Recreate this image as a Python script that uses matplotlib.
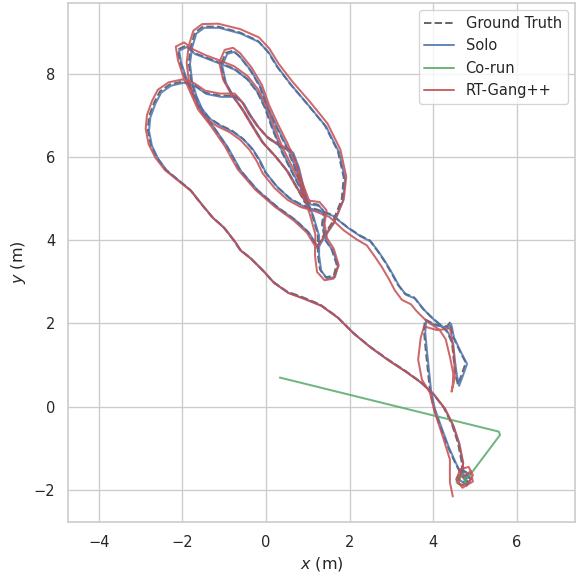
import matplotlib
matplotlib.use("Agg")
import matplotlib.pyplot as plt
import seaborn as sns

sns.set_theme(style="whitegrid")
plt.rcParams['font.family'] = ['DejaVu Sans']

# ground truth trajectory (x, y in metres)
gt_x = [4.72, 4.85, 4.68, 4.58, 4.78, 4.88, 4.70,
        4.68, 4.59, 4.45, 4.25, 3.99, 3.68, 3.32, 2.91, 2.48, 2.08, 1.69, 1.29, 0.88, 0.50, 0.16, -0.10, -0.39,
        -0.63, -0.79, -1.03, -1.30, -1.54, -1.82, -2.11, -2.40, -2.61, -2.76, -2.83, -2.80, -2.68, -2.54, -2.30,
        -1.99, -1.70, -1.46, -1.11, -0.75,
        -0.56, -0.39, -0.20, 0.04, 0.33, 0.62, 0.76, 0.86, 0.95, 1.10,
        1.24, 1.24, 1.29, 1.43, 1.62, 1.69, 1.57, 1.41, 1.34, 1.38, 1.24, 0.93,
        0.76, 0.52, 0.23, -0.08, -0.32, -0.56, -0.79, -0.99, -1.08, -0.96, -0.79, -0.65, -0.39, -0.15, 0.02, 0.23,
        0.47, 0.67, 0.83, 1.00,
        0.81, 0.59, 0.35, 0.14, -0.03, -0.22, -0.46, -0.77, -1.11, -1.42, -1.73, -1.92, -2.11, -2.06, -1.94, -1.78,
        -1.58, -1.27, -0.94, -0.63, -0.22, 0.26, 0.69, 1.00, 1.22,
        1.36, 1.60, 1.81, 1.86, 1.72, 1.41, 1.00, 0.57, 0.26, 0.04, -0.20, -0.63, -1.15, -1.51, -1.70, -1.80, -1.85,
        -1.80, -1.70, -1.56, -1.37, -1.11, -0.82, -0.56, -0.34, -0.17, -0.03, 0.26, 0.57, 0.88, 1.22, 1.57, 1.93,
        2.24, 2.48, 2.68, 2.84, 3.01, 3.15, 3.32, 3.54, 3.75, 3.97, 4.16, 4.33, 4.45, 4.49, 4.54, 4.59,
        4.68, 4.78, 4.64, 4.47, 4.40, 4.33, 4.04, 3.80,
        3.78, 3.82, 3.87, 3.92, 4.01, 4.18, 4.35, 4.52, 4.66, 4.78]
gt_y = [-1.75, -1.60, -1.52, -1.72, -1.85, -1.70, -1.65,
        -1.32, -0.86, -0.43, -0.02, 0.32, 0.61, 0.87, 1.14, 1.45, 1.78, 2.17, 2.46, 2.63, 2.77, 3.01, 3.30, 3.59,
        3.78, 4.02, 4.33, 4.57, 4.86, 5.22, 5.46, 5.70, 5.99, 6.30, 6.66, 6.98, 7.31, 7.58, 7.75,
        7.82, 7.72, 7.55, 7.48, 7.48,
        7.31, 7.02, 6.74, 6.47, 6.28, 6.14, 5.77, 5.34, 4.98, 4.62,
        4.14, 3.66, 3.30, 3.11, 3.15, 3.42, 3.78, 4.02, 4.38, 4.69, 4.86, 4.91,
        5.22, 5.65, 6.01, 6.35, 6.74, 7.14, 7.46, 7.82, 8.23, 8.51, 8.56, 8.44, 8.11, 7.70, 7.22, 6.76,
        6.28, 5.80, 5.32, 4.86,
        5.27, 5.70, 6.18, 6.71, 7.19, 7.58, 7.89, 8.13, 8.27, 8.39, 8.51, 8.68, 8.59, 8.30, 7.94, 7.58,
        7.14, 6.74, 6.26, 5.70, 5.22, 4.81, 4.50, 4.21, 3.85,
        4.09, 4.45, 4.98, 5.51, 6.14, 6.76, 7.26, 7.77, 8.18, 8.54, 8.80, 9.00, 9.14, 9.14, 9.00, 8.66, 8.27,
        7.87, 7.51, 7.19, 6.95, 6.78, 6.64, 6.45, 6.21, 5.94, 5.65, 5.29, 5.01, 4.84, 4.74, 4.62, 4.33,
        4.12, 4.00, 3.73, 3.49, 3.20, 2.94, 2.72, 2.63, 2.36, 2.14, 1.98, 1.81, 1.54, 1.14, 0.77, 0.53,
        0.77, 1.06, 1.33, 1.69, 2.02, 1.93, 1.98, 2.10,
        1.81, 1.38, 0.89, 0.41, -0.02, -0.50, -0.96, -1.34, -1.61, -1.75]

# solo estimate
solo_x = [4.75, 4.88, 4.71, 4.61, 4.81, 4.91, 4.73,
          4.71, 4.62, 4.48, 4.28, 4.02, 3.71, 3.35, 2.94, 2.51, 2.11, 1.72, 1.32, 0.91, 0.53, 0.19, -0.07, -0.36,
          -0.60, -0.76, -1.00, -1.27, -1.51, -1.79, -2.08, -2.37, -2.58, -2.73, -2.80, -2.77, -2.65, -2.51, -2.27,
          -1.96, -1.67, -1.43, -1.08, -0.72,
          -0.53, -0.36, -0.17, 0.07, 0.36, 0.65, 0.79, 0.89, 0.98, 1.13,
          1.27, 1.27, 1.32, 1.46, 1.65, 1.72, 1.60, 1.44, 1.37, 1.41, 1.27, 0.96,
          0.79, 0.55, 0.26, -0.05, -0.29, -0.53, -0.76, -0.96, -1.05, -0.93, -0.76, -0.62, -0.36, -0.12, 0.05, 0.26,
          0.50, 0.70, 0.86, 1.03,
          0.84, 0.62, 0.38, 0.17, 0.00, -0.19, -0.43, -0.74, -1.08, -1.39, -1.70, -1.89, -2.08, -2.03, -1.91, -1.75,
          -1.55, -1.24, -0.91, -0.60, -0.19, 0.29, 0.72, 1.03, 1.25,
          1.39, 1.63, 1.84, 1.89, 1.75, 1.44, 1.03, 0.60, 0.29, 0.07, -0.17, -0.60, -1.12, -1.48, -1.67, -1.77, -1.82,
          -1.77, -1.67, -1.53, -1.34, -1.08, -0.79, -0.53, -0.31, -0.14, 0.00, 0.29, 0.60, 0.91, 1.25, 1.60, 1.96,
          2.27, 2.51, 2.71, 2.87, 3.04, 3.18, 3.35, 3.57, 3.78, 4.00, 4.19, 4.36, 4.48, 4.52, 4.57, 4.62,
          4.71, 4.81, 4.67, 4.50, 4.43, 4.36, 4.07, 3.83,
          3.81, 3.85, 3.90, 3.95, 4.04, 4.21, 4.38, 4.55, 4.69, 4.81]
solo_y = [-1.78, -1.63, -1.55, -1.75, -1.88, -1.73, -1.68,
          -1.35, -0.89, -0.46, -0.05, 0.29, 0.58, 0.84, 1.11, 1.42, 1.75, 2.14, 2.43, 2.60, 2.74, 2.98, 3.27, 3.56,
          3.75, 3.99, 4.30, 4.54, 4.83, 5.19, 5.43, 5.67, 5.96, 6.27, 6.63, 6.95, 7.28, 7.55, 7.72,
          7.79, 7.69, 7.52, 7.45, 7.45,
          7.28, 6.99, 6.71, 6.44, 6.25, 6.11, 5.74, 5.31, 4.95, 4.59,
          4.11, 3.63, 3.27, 3.08, 3.12, 3.39, 3.75, 3.99, 4.35, 4.66, 4.83, 4.88,
          5.19, 5.62, 5.98, 6.32, 6.71, 7.11, 7.43, 7.79, 8.20, 8.48, 8.53, 8.41, 8.08, 7.67, 7.19, 6.73,
          6.25, 5.77, 5.29, 4.83,
          5.24, 5.67, 6.15, 6.68, 7.16, 7.55, 7.86, 8.10, 8.24, 8.36, 8.48, 8.65, 8.56, 8.27, 7.91, 7.55,
          7.11, 6.71, 6.23, 5.67, 5.19, 4.78, 4.47, 4.18, 3.82,
          4.06, 4.42, 4.95, 5.48, 6.11, 6.73, 7.23, 7.74, 8.15, 8.51, 8.77, 8.97, 9.11, 9.11, 8.97, 8.63, 8.24,
          7.84, 7.48, 7.16, 6.92, 6.75, 6.61, 6.42, 6.18, 5.91, 5.62, 5.26, 4.98, 4.81, 4.71, 4.59, 4.30,
          4.09, 3.97, 3.70, 3.46, 3.17, 2.91, 2.69, 2.60, 2.33, 2.11, 1.95, 1.78, 1.51, 1.11, 0.74, 0.50,
          0.74, 1.03, 1.30, 1.66, 1.99, 1.90, 1.95, 2.07,
          1.78, 1.35, 0.86, 0.38, -0.05, -0.53, -0.99, -1.37, -1.64, -1.78]

# co-run estimate
corun_x = [0.33, 5.57, 5.60, 4.95, 4.78, 4.62, 4.75, 4.78, 4.68, 4.56, 4.58, 4.70]
corun_y = [0.70, -0.60, -0.68, -1.55, -1.72, -1.65, -1.70, -1.82, -1.90, -1.82, -1.70, -1.62]

# RT-Gang++ estimate
rt_x = [4.70, 4.90, 4.95, 4.70, 4.55, 4.65, 4.85, 4.95, 4.80, 4.60,
        4.72, 4.63, 4.49, 4.29, 4.03, 3.72, 3.36, 2.95, 2.52, 2.12, 1.73, 1.33, 0.92, 0.54, 0.20, -0.06, -0.35,
        -0.59, -0.75, -0.99, -1.26, -1.50, -1.80, -2.11, -2.42, -2.65, -2.81, -2.88, -2.85, -2.73, -2.59, -2.33,
        -2.00, -1.70, -1.46, -1.11, -0.75,
        -0.58, -0.42, -0.23, 0.01, 0.30, 0.59, 0.74, 0.83, 0.92, 1.05,
        1.18, 1.17, 1.22, 1.40, 1.62, 1.74, 1.62, 1.46, 1.40, 1.45, 1.28, 0.93,
        0.73, 0.48, 0.19, -0.12, -0.36, -0.60, -0.83, -1.03, -1.12, -0.99, -0.79, -0.62, -0.35, -0.10, 0.07, 0.28,
        0.52, 0.72, 0.88, 1.05,
        0.86, 0.64, 0.40, 0.19, 0.02, -0.19, -0.44, -0.77, -1.12, -1.44, -1.76, -1.96, -2.16, -2.11, -1.99, -1.83,
        -1.63, -1.32, -0.99, -0.68, -0.26, 0.22, 0.66, 0.98, 1.20,
        1.36, 1.62, 1.86, 1.92, 1.78, 1.47, 1.06, 0.62, 0.30, 0.08, -0.17, -0.62, -1.15, -1.53, -1.74, -1.85, -1.90,
        -1.85, -1.75, -1.61, -1.42, -1.16, -0.87, -0.61, -0.39, -0.22, -0.08, 0.21, 0.52, 0.83, 1.17, 1.52, 1.86,
        2.17, 2.41, 2.61, 2.77, 2.94, 3.08, 3.25, 3.47, 3.60,
        3.85, 4.15, 4.30, 4.40, 4.48, 4.47, 4.44, 4.52, 4.50, 4.44, 4.40, 4.10, 3.78,
        3.70, 3.64, 3.73, 3.92, 4.04, 4.23, 4.40, 4.40, 4.47]
rt_y = [-1.70, -1.55, -1.80, -1.95, -1.75, -1.50, -1.45, -1.65, -1.90, -1.85,
        -1.36, -0.90, -0.47, -0.06, 0.28, 0.57, 0.83, 1.10, 1.41, 1.74, 2.13, 2.42, 2.59, 2.73, 2.97, 3.26, 3.55,
        3.74, 3.98, 4.29, 4.53, 4.82, 5.19, 5.44, 5.69, 5.99, 6.31, 6.68, 7.01, 7.35, 7.62, 7.80,
        7.87, 7.77, 7.60, 7.53, 7.53,
        7.34, 7.05, 6.77, 6.50, 6.31, 6.17, 5.80, 5.36, 5.00, 4.62,
        4.14, 3.64, 3.24, 3.04, 3.08, 3.40, 3.80, 4.05, 4.40, 4.72, 4.92, 4.97,
        5.27, 5.70, 6.06, 6.40, 6.79, 7.19, 7.51, 7.87, 8.28, 8.58, 8.63, 8.50, 8.16, 7.74, 7.26, 6.80,
        6.32, 5.84, 5.36, 4.90,
        5.31, 5.74, 6.22, 6.75, 7.23, 7.63, 7.95, 8.19, 8.33, 8.45, 8.60, 8.76, 8.66, 8.34, 7.97, 7.60,
        7.15, 6.75, 6.27, 5.71, 5.22, 4.80, 4.48, 4.18, 3.82,
        4.05, 4.43, 4.98, 5.53, 6.18, 6.81, 7.32, 7.83, 8.25, 8.61, 8.88, 9.08, 9.21, 9.20, 9.04, 8.68, 8.27,
        7.86, 7.49, 7.16, 6.91, 6.74, 6.60, 6.41, 6.17, 5.90, 5.61, 5.25, 4.97, 4.80, 4.70, 4.56, 4.24,
        4.02, 3.88, 3.60, 3.36, 3.07, 2.80, 2.57, 2.46, 2.30,
        2.05, 1.85, 1.62, 1.20, 0.80, 0.55, 0.36, 0.70, 1.20, 1.70, 1.88, 1.84, 1.93,
        1.65, 1.13, 0.65, 0.34, -0.14, -0.72, -1.27, -1.82, -2.16]

fig = plt.figure(figsize=(6, 6), dpi=96)
ax = fig.add_axes([0.118, 0.094, 0.880, 0.901])

ax.plot(gt_x, gt_y, '--', color='dimgray', lw=1.5, label='Ground Truth')
ax.plot(solo_x, solo_y, color='#4C72B0', lw=1.5, alpha=0.85, label='Solo')
ax.plot(corun_x, corun_y, color='#55A868', lw=1.5, alpha=0.85, label='Co-run')
ax.plot(rt_x, rt_y, color='#C44E52', lw=1.5, alpha=0.85, label='RT-Gang++')

ax.set_xlim(-4.74, 7.39)
ax.set_ylim(-2.77, 9.71)
ax.set_xticks([-4, -2, 0, 2, 4, 6])
ax.set_yticks([-2, 0, 2, 4, 6, 8])
ax.set_xlabel('$x$ (m)')
ax.set_ylabel('$y$ (m)')
ax.legend(loc='upper right')

fig.savefig('out.png', dpi=96)
